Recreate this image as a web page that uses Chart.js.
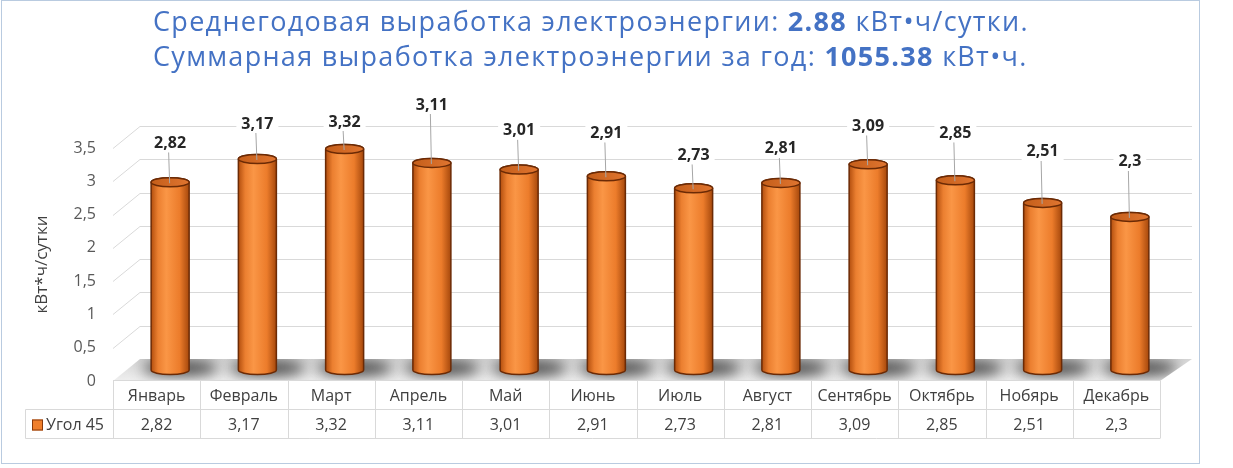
<!DOCTYPE html>
<html>
<head>
<meta charset="utf-8">
<script src="https://cdn.jsdelivr.net/npm/chart.js@4.4.0/dist/chart.umd.min.js"></script>
<style>
  body { margin: 0; background: #fff; }
  #wrap { position: relative; width: 1233px; height: 468px; overflow: hidden; }
  #frame { position: absolute; left: 1px; top: 0; width: 1197px; height: 462px; border: 1px solid #b9cbe0; }
  canvas { position: absolute; left: 0; top: 0; }
  .t { position: absolute; left: 153px; font-family: 'Open Sans'; font-size: 27px; letter-spacing: 1.3px; color: #4472c4; white-space: nowrap; line-height: 36px; }
  .t b { font-weight: 700; }
</style>
</head>
<body>
<div id="wrap">
  <div id="frame"></div>
  <canvas id="chart" width="1233" height="468"></canvas>
  <div class="t" style="top:3px">Среднегодовая выработка электроэнергии: <b>2.88</b> кВт•ч/сутки.</div>
  <div class="t" style="top:38px">Суммарная выработка электроэнергии за год: <b>1055.38</b> кВт•ч.</div>
</div>
<script>
const months = ['Январь', 'Февраль', 'Март', 'Апрель', 'Май', 'Июнь', 'Июль', 'Август', 'Сентябрь', 'Октябрь', 'Нобярь', 'Декабрь'];
const seriesName = 'Угол 45';
const values = [2.82, 3.17, 3.32, 3.11, 3.01, 2.91, 2.73, 2.81, 3.09, 2.85, 2.51, 2.3];
const yTicks = ['0', '0,5', '1', '1,5', '2', '2,5', '3', '3,5'];
// how far each value label sits above its cylinder top (px), as placed in the original
const labelLift = [40, 36, 28, 59, 40, 44, 34, 35, 39, 48, 52, 56];

const fmt = v => String(v).replace('.', ',');
const FONT = "'Open Sans'";
const DX = 27, DY = 22;   // depth of the 3d box

function cylinder(ctx, cx, top, bottom, rx, ry) {
  const g = ctx.createLinearGradient(cx - rx, 0, cx + rx, 0);
  g.addColorStop(0, '#b24e0e');
  g.addColorStop(0.18, '#eb7f30');
  g.addColorStop(0.4, '#fa9646');
  g.addColorStop(0.75, '#ec7c2b');
  g.addColorStop(1, '#a6480c');
  ctx.beginPath();
  ctx.moveTo(cx - rx, top);
  ctx.lineTo(cx - rx, bottom);
  ctx.ellipse(cx, bottom, rx, ry, 0, Math.PI, 0, true);
  ctx.lineTo(cx + rx, top);
  ctx.ellipse(cx, top, rx, ry, 0, 0, Math.PI, true);
  ctx.closePath();
  ctx.fillStyle = g;
  ctx.fill();
  ctx.lineWidth = 1.5;
  ctx.strokeStyle = '#6b2a05';
  ctx.stroke();

  const gt = ctx.createLinearGradient(cx - rx, 0, cx + rx, 0);
  gt.addColorStop(0, '#c45e1a');
  gt.addColorStop(1, '#e07530');
  ctx.beginPath();
  ctx.ellipse(cx, top, rx, ry, 0, 0, Math.PI * 2);
  ctx.fillStyle = gt;
  ctx.fill();
  ctx.stroke();
}

const box3d = {
  id: 'box3d',
  beforeDatasetsDraw(chart) {
    const {ctx, chartArea: a, scales: {x, y}} = chart;
    const y0 = y.getPixelForValue(0);
    ctx.save();
    // back wall gridlines with the short diagonal on the left side wall
    ctx.strokeStyle = '#d9d9d9';
    ctx.lineWidth = 1;
    yTicks.forEach((t, i) => {
      if (i === 0) return;
      const py = Math.round(y.getPixelForValue(i * 0.5)) + 0.5;
      ctx.beginPath();
      ctx.moveTo(a.left, py);
      ctx.lineTo(a.left + DX, py - DY);
      ctx.lineTo(a.right + DX + 5, py - DY);
      ctx.stroke();
    });
    // floor
    ctx.beginPath();
    ctx.moveTo(a.left, y0);
    ctx.lineTo(a.right, y0);
    ctx.lineTo(a.right + DX + 5, y0 - DY);
    ctx.lineTo(a.left + DX, y0 - DY);
    ctx.closePath();
    const fg = ctx.createLinearGradient(0, y0 - DY, 0, y0);
    fg.addColorStop(0, '#d6d6d6');
    fg.addColorStop(1, '#efefef');
    ctx.fillStyle = fg;
    ctx.fill();
    ctx.clip();
    // bar shadows on the floor
    ctx.filter = 'blur(7px)';
    ctx.fillStyle = 'rgba(40,40,40,0.8)';
    values.forEach((v, i) => {
      const cx = x.getPixelForValue(i) + DX / 2;
      ctx.beginPath();
      ctx.ellipse(cx + 10, y0 - DY / 2 - 2, 38, 8, 0, 0, Math.PI * 2);
      ctx.fill();
    });
    ctx.restore();
  },
  afterDatasetsDraw(chart) {
    const {ctx, scales: {x, y}} = chart;
    const base = y.getPixelForValue(0) - DY / 2;
    ctx.save();
    values.forEach((v, i) => {
      const cx = x.getPixelForValue(i) + DX / 2;
      const top = y.getPixelForValue(v) - DY / 2;
      cylinder(ctx, cx, top, base, 19, 4.5);
    });
    // value labels with leader lines
    ctx.font = `bold 16px ${FONT}`;
    ctx.textAlign = 'center';
    ctx.textBaseline = 'middle';
    values.forEach((v, i) => {
      const cx = x.getPixelForValue(i) + DX / 2;
      const top = y.getPixelForValue(v) - DY / 2;
      const ly = top - labelLift[i];
      const txt = fmt(v);
      const w = ctx.measureText(txt).width;
      ctx.strokeStyle = '#a6a6a6';
      ctx.lineWidth = 1;
      ctx.beginPath();
      ctx.moveTo(cx - 1.5, ly + 10);
      ctx.lineTo(cx - 0.5, top + 1);
      ctx.stroke();
      ctx.fillStyle = '#fff';
      ctx.fillRect(cx - w / 2 - 5, ly - 10, w + 10, 20);
      ctx.fillStyle = '#262626';
      ctx.fillText(txt, cx, ly + 1);
    });
    ctx.restore();
  },
  afterDraw(chart) {
    // data table under the plot
    const {ctx, chartArea: a, scales: {x}} = chart;
    const n = months.length;
    const colW = (a.right - a.left) / n;
    const t0 = a.bottom - 0.5, t1 = t0 + 29, t2 = t1 + 29;
    const legL = 25.5;
    ctx.save();
    ctx.strokeStyle = '#d9d9d9';
    ctx.lineWidth = 1;
    ctx.beginPath();
    ctx.moveTo(a.left, t0); ctx.lineTo(a.right, t0);
    ctx.moveTo(legL, t1); ctx.lineTo(a.right, t1);
    ctx.moveTo(legL, t2); ctx.lineTo(a.right, t2);
    ctx.moveTo(legL, t1); ctx.lineTo(legL, t2);
    for (let i = 0; i <= n; i++) {
      const px = Math.round(a.left + i * colW) + 0.5;
      ctx.moveTo(px, t0); ctx.lineTo(px, t2);
    }
    ctx.stroke();
    ctx.fillStyle = '#404040';
    ctx.font = `16px ${FONT}`;
    ctx.textAlign = 'center';
    ctx.textBaseline = 'middle';
    months.forEach((m, i) => {
      const cx = x.getPixelForValue(i);
      ctx.fillText(m, cx, (t0 + t1) / 2 + 1);
      ctx.fillText(fmt(values[i]), cx, (t1 + t2) / 2 + 1);
    });
    // legend key
    ctx.fillStyle = '#f07f2c';
    ctx.strokeStyle = '#8a3a0a';
    ctx.fillRect(32, t1 + 10, 11, 11);
    ctx.strokeRect(32.5, t1 + 10.5, 10, 10);
    ctx.fillStyle = '#404040';
    ctx.textAlign = 'left';
    ctx.fillText(seriesName, 46, (t1 + t2) / 2 + 1);
    ctx.restore();
  }
};

new Chart(document.getElementById('chart'), {
  type: 'bar',
  data: {
    labels: months,
    datasets: [{
      label: seriesName,
      data: values,
      backgroundColor: 'rgba(0,0,0,0)',
      borderWidth: 0
    }]
  },
  options: {
    responsive: false,
    animation: false,
    events: [],
    layout: { padding: { left: 25, right: 73, top: 148, bottom: 87 } },
    plugins: { legend: { display: false }, tooltip: { enabled: false } },
    scales: {
      x: { display: false },
      y: {
        min: 0,
        max: 3.5,
        afterFit: s => { s.width = 88; },
        grid: { display: false, drawTicks: false },
        border: { display: false },
        ticks: {
          stepSize: 0.5,
          padding: 17,
          color: '#595959',
          font: { family: FONT, size: 16 },
          callback: (v, i) => yTicks[i]
        },
        title: {
          display: true,
          text: 'кВт*ч/сутки',
          color: '#404040',
          font: { family: FONT, size: 17 },
          padding: { top: 7, bottom: 0 }
        }
      }
    }
  },
  plugins: [box3d]
});
</script>
</body>
</html>
